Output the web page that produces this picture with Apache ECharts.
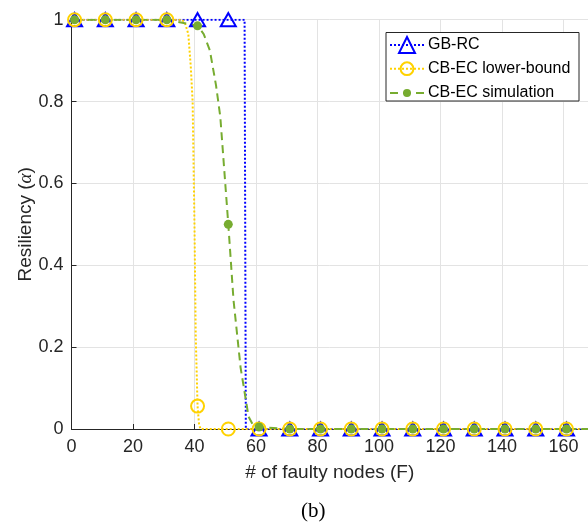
<!DOCTYPE html>
<html>
<head>
<meta charset="utf-8">
<script src="https://cdn.jsdelivr.net/npm/echarts@6/dist/echarts.min.js"></script>
<style>
  html, body { margin: 0; padding: 0; background: #fff; }
  #chart { width: 588px; height: 525px; }
</style>
</head>
<body>
<div id="chart"></div>
<script>
// marker positions (F) and values
var markerF = [1, 11, 21, 31, 41, 51, 61, 71, 81, 91, 101, 111, 121, 131, 141, 151, 161];
var gbrcMarkers = [1, 1, 1, 1, 1, 1, 0, 0, 0, 0, 0, 0, 0, 0, 0, 0, 0];
var lowerMarkers = [1, 1, 1, 1, 0.056, 0, 0, 0, 0, 0, 0, 0, 0, 0, 0, 0, 0];
var simMarkers = [1, 1, 1, 1, 0.985, 0.5, 0.005, 0, 0, 0, 0, 0, 0, 0, 0, 0, 0];

// points of the curves between markers (no symbol)
var gbrcCurveF = [56.3, 56.7, 171];
var gbrcCurveY = [1, 0, 0];
var lowerCurveF = [36, 37, 38, 38.8, 39.4, 40, 40.4, 41.5, 42, 171];
var lowerCurveY = [1, 0.99, 0.965, 0.885, 0.8, 0.5, 0.23, 0.01, 0, 0];
var simCurveF = [43, 45, 47, 48.4, 52.7, 55, 57.6, 59, 171];
var simCurveY = [0.965, 0.925, 0.84, 0.763, 0.315, 0.15, 0.03, 0.01, 0];

var seriesNames = ['GB-RC', 'CB-EC lower-bound', 'CB-EC simulation'];
var xTicks = { min: 0, max: 168, interval: 20 };
var yTicks = { min: 0, max: 1, interval: 0.2 };

function buildData(mY, cF, cY) {
  var pts = [];
  for (var i = 0; i < markerF.length; i++) {
    pts.push({ value: [markerF[i], mY[i]] });
  }
  for (var j = 0; j < cF.length; j++) {
    pts.push({ value: [cF[j], cY[j]], symbol: 'none' });
  }
  pts.sort(function (a, b) { return a.value[0] - b.value[0]; });
  return pts;
}

var txt = '#262626';
var font = 'Liberation Sans';

// one legend per entry so each icon keeps its own marker size
var legendRows = [46, 68.7, 90];
var legendIconH = [20, 16, 10];
var legends = seriesNames.map(function (n, i) {
  return {
    left: 389,
    top: legendRows[i] - legendIconH[i] / 2,
    padding: 0,
    itemWidth: 34,
    itemHeight: legendIconH[i],
    itemGap: 0,
    textStyle: { fontSize: 16, color: '#000', fontFamily: font, padding: [0, 0, 0, -1] },
    data: [n]
  };
});

var chart = echarts.init(document.getElementById('chart'));
chart.setOption({
  animation: false,
  backgroundColor: '#fff',
  grid: { left: 71.5, top: 19.7, right: 0, bottom: 96 },
  legend: legends,
  xAxis: {
    type: 'value',
    min: xTicks.min, max: xTicks.max, interval: xTicks.interval,
    name: '# of faulty nodes (F)',
    nameLocation: 'middle',
    nameGap: 34,
    nameTextStyle: { fontSize: 19, color: txt, fontFamily: font },
    axisLine: { lineStyle: { color: txt, width: 1 } },
    axisTick: { inside: true, length: 5, lineStyle: { color: txt } },
    axisLabel: { fontSize: 18, color: txt, fontFamily: font, margin: 9, showMaxLabel: false },
    splitLine: { show: true, lineStyle: { color: '#e3e3e3', width: 1 } }
  },
  yAxis: {
    type: 'value',
    min: yTicks.min, max: yTicks.max, interval: yTicks.interval,
    name: 'Resiliency ({a|α})',
    nameLocation: 'middle',
    nameGap: 36,
    nameMoveOverlap: false,
    nameTextStyle: {
      fontSize: 19, color: txt, fontFamily: font,
      rich: { a: { fontSize: 19, fontStyle: 'italic', fontFamily: 'Liberation Serif', color: txt } }
    },
    axisLine: { show: true, lineStyle: { color: txt, width: 1 } },
    axisTick: { show: true, inside: true, length: 5, lineStyle: { color: txt } },
    axisLabel: { fontSize: 18, color: txt, fontFamily: font, margin: 8 },
    splitLine: { show: true, lineStyle: { color: '#e3e3e3', width: 1 } }
  },
  series: [
    {
      name: seriesNames[0],
      type: 'line',
      data: buildData(gbrcMarkers, gbrcCurveF, gbrcCurveY),
      symbol: 'triangle',
      symbolSize: [15, 13],
      lineStyle: { color: '#0000ff', width: 2, type: [2, 2] },
      itemStyle: { color: 'rgba(255,255,255,0)', borderColor: '#0000ff', borderWidth: 2 }
    },
    {
      name: seriesNames[1],
      type: 'line',
      data: buildData(lowerMarkers, lowerCurveF, lowerCurveY),
      symbol: 'circle',
      symbolSize: 13,
      lineStyle: { color: '#ffd200', width: 2, type: [2, 2] },
      itemStyle: { color: 'rgba(255,255,255,0)', borderColor: '#ffd200', borderWidth: 2 }
    },
    {
      name: seriesNames[2],
      type: 'line',
      data: buildData(simMarkers, simCurveF, simCurveY),
      symbol: 'circle',
      symbolSize: 9,
      lineStyle: { color: '#77ac30', width: 2, type: [8, 5] },
      itemStyle: { color: '#77ac30', borderColor: '#77ac30', borderWidth: 0 }
    }
  ],
  graphic: [
    {
      type: 'rect',
      z: 3,
      shape: { x: 386, y: 32.5, width: 193, height: 68.5 },
      style: { fill: '#fff', stroke: '#262626', lineWidth: 1 }
    },
    {
      type: 'text',
      left: 301,
      top: 501,
      style: { text: '(b)', font: '21px "Liberation Serif"', fill: '#000' }
    }
  ]
});
</script>
</body>
</html>
